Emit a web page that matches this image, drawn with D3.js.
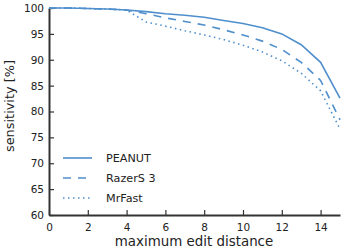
<!DOCTYPE html>
<html>
<head>
<meta charset="utf-8">
<script src="https://cdn.jsdelivr.net/npm/d3@7"></script>
<style>
  body { margin: 0; background: #fff; }
  svg { font-family: "DejaVu Sans", sans-serif; }
</style>
</head>
<body>
<div id="chart"></div>
<script>
const editDistance = [0, 1, 2, 3, 4, 5, 6, 7, 8, 9, 10, 11, 12, 13, 14, 15];
const peanut = [100, 100, 99.9, 99.8, 99.6, 99.3, 98.9, 98.6, 98.2, 97.6, 97.0, 96.2, 95.0, 92.9, 89.5, 82.6];
const razers3 = [100, 100, 99.9, 99.8, 99.6, 98.9, 98.1, 97.4, 96.7, 95.8, 94.8, 93.6, 92.0, 89.5, 86.0, 78.4];
const mrfast = [100, 100, 99.9, 99.8, 99.6, 97.3, 96.5, 95.6, 94.8, 93.9, 92.8, 91.5, 89.8, 87.4, 84.0, 76.6];
const xTicks = [0, 2, 4, 6, 8, 10, 12, 14];
const yTicks = [60, 65, 70, 75, 80, 85, 90, 95, 100];

const series = [
    { name: "PEANUT", values: peanut, dash: null },
    { name: "RazerS 3", values: razers3, dash: "8,7" },
    { name: "MrFast", values: mrfast, dash: "1.5,3.5" }
];

const width = 345, height = 251;
const color = "#4f8fcc";

const svg = d3.select("#chart").append("svg")
    .attr("width", width)
    .attr("height", height);

const x = d3.scaleLinear().domain([0, 15]).range([49, 340]);
const y = d3.scaleLinear().domain([60, 100]).range([215, 8]);

// axes, ticks pointing inward
const xAxis = svg.append("g")
    .attr("transform", `translate(0,${y(60)})`)
    .call(d3.axisBottom(x).tickValues(xTicks).tickSizeInner(-5).tickSizeOuter(0).tickPadding(9));
const yAxis = svg.append("g")
    .attr("transform", `translate(${x(0)},0)`)
    .call(d3.axisLeft(y).tickValues(yTicks).tickSizeInner(-5).tickSizeOuter(0).tickPadding(5));

[xAxis, yAxis].forEach(g => {
    g.select(".domain").attr("stroke", "#333").attr("stroke-width", 2);
    g.selectAll(".tick line").attr("stroke", "#333").attr("stroke-width", 1.2);
    g.selectAll(".tick text")
        .attr("fill", "#222")
        .style("font-size", "10.5px")
        .style("font-family", "DejaVu Sans");
});

const line = d3.line()
    .x((d, i) => x(editDistance[i]))
    .y(d => y(d));

series.forEach(s => {
    svg.append("path")
        .datum(s.values)
        .attr("fill", "none")
        .attr("stroke", color)
        .attr("stroke-width", 1.6)
        .attr("stroke-dasharray", s.dash)
        .attr("d", line);
});

// legend
const legend = svg.append("g");
series.forEach((s, i) => {
    const ly = 158 + i * 20;
    legend.append("line")
        .attr("x1", 63).attr("x2", 92)
        .attr("y1", ly).attr("y2", ly)
        .attr("stroke", color)
        .attr("stroke-width", 1.6)
        .attr("stroke-dasharray", s.dash);
    legend.append("text")
        .attr("x", 106)
        .attr("y", ly)
        .attr("dy", "0.36em")
        .attr("fill", "#222")
        .style("font-size", "11.2px")
        .text(s.name);
});

// axis labels
svg.append("text")
    .attr("x", 194)
    .attr("y", 246)
    .attr("text-anchor", "middle")
    .attr("fill", "#222")
    .style("font-size", "13.4px")
    .text("maximum edit distance");

svg.append("text")
    .attr("transform", "translate(14,106) rotate(-90)")
    .attr("text-anchor", "middle")
    .attr("fill", "#222")
    .style("font-size", "12.9px")
    .text("sensitivity [%]");
</script>
</body>
</html>
